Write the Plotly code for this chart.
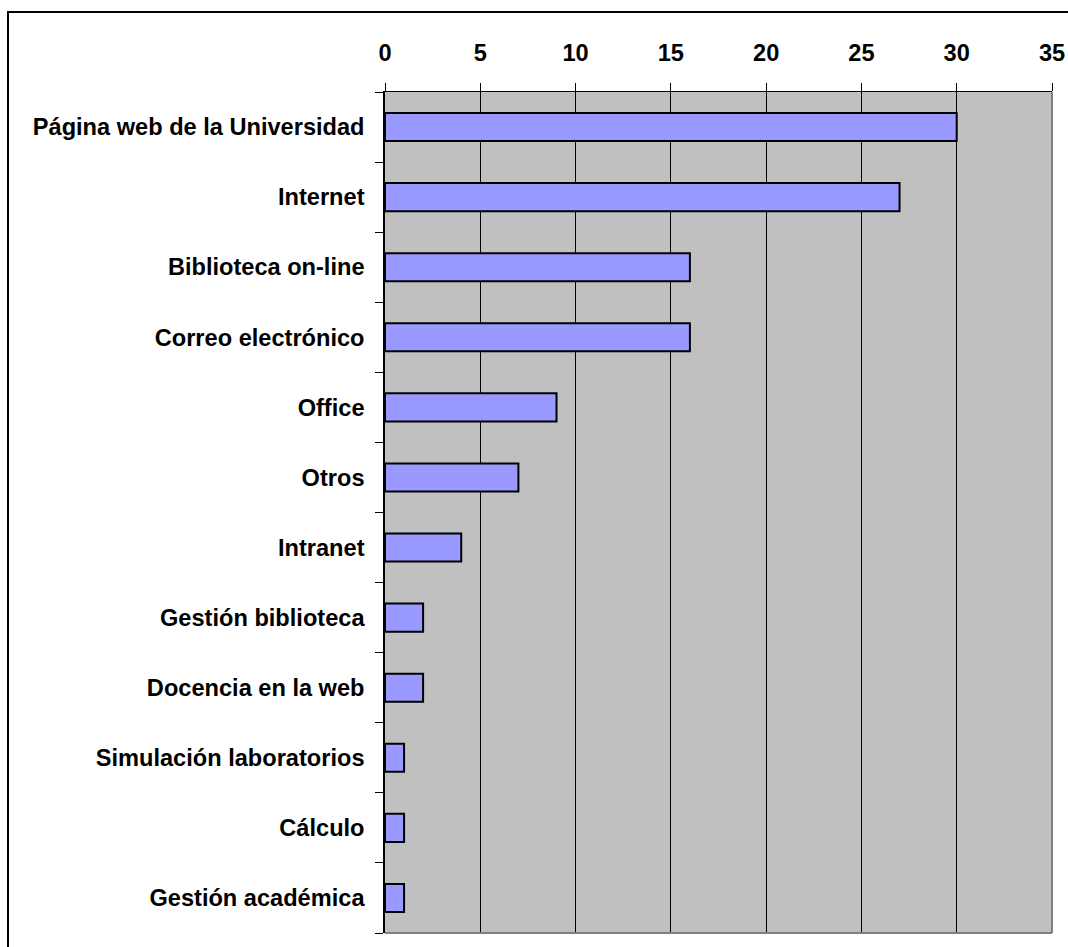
import plotly.graph_objects as go

categories = [
    "Página web de la Universidad",
    "Internet",
    "Biblioteca on-line",
    "Correo electrónico",
    "Office",
    "Otros",
    "Intranet",
    "Gestión biblioteca",
    "Docencia en la web",
    "Simulación laboratorios",
    "Cálculo",
    "Gestión académica",
]
values = [30, 27, 16, 16, 9, 7, 4, 2, 2, 1, 1, 1]
x_ticks = [0, 5, 10, 15, 20, 25, 30, 35]

W, H = 1068, 947
L, R, T, B = 385, 1052, 92, 933
pw, ph = R - L, B - T

def px(x):
    return (x - L) / pw

def py(y):
    return (B - y) / ph

fig = go.Figure(
    go.Bar(
        x=values,
        y=categories,
        orientation="h",
        width=0.4,
        marker=dict(color="#9999FF", line=dict(color="black", width=2)),
    )
)

font = dict(family="Liberation Sans, Arial, sans-serif", size=23.6, color="black")

fig.update_layout(
    width=W,
    height=H,
    margin=dict(l=L, r=W - R, t=T, b=H - B, pad=0, autoexpand=False),
    paper_bgcolor="white",
    plot_bgcolor="#C0C0C0",
    showlegend=False,
    font=font,
    xaxis=dict(
        side="top",
        range=[0, 35],
        tickvals=x_ticks,
        ticktext=[f"<b>{t}</b>" for t in x_ticks],
        showgrid=True,
        gridcolor="black",
        gridwidth=1,
        ticks="outside",
        ticklen=8,
        tickcolor="black",
        showline=True,
        linecolor="black",
        linewidth=1,
        zeroline=False,
        ticklabelstandoff=13,
        automargin=False,
    ),
    yaxis=dict(
        autorange="reversed",
        tickmode="array",
        tickvals=categories,
        ticktext=[f"<b>{c}</b>" for c in categories],
        tickson="boundaries",
        ticks="outside",
        ticklen=8,
        tickcolor="black",
        showline=True,
        linecolor="black",
        linewidth=1.5,
        showgrid=False,
        ticklabelstandoff=14,
        automargin=False,
    ),
    shapes=[
        # gray right & bottom border of plot area
        dict(type="line", xref="paper", yref="paper", x0=1, x1=1, y0=0, y1=1,
             line=dict(color="#808080", width=2), layer="above"),
        dict(type="line", xref="paper", yref="paper", x0=0, x1=1, y0=0, y1=0,
             line=dict(color="#808080", width=2), layer="above"),
        # outer chart border (top and left visible)
        dict(type="rect", xref="paper", yref="paper",
             x0=px(8), x1=px(1100), y0=py(980), y1=py(12),
             line=dict(color="black", width=2), layer="above"),
    ],
)

fig.write_html("out.html")
